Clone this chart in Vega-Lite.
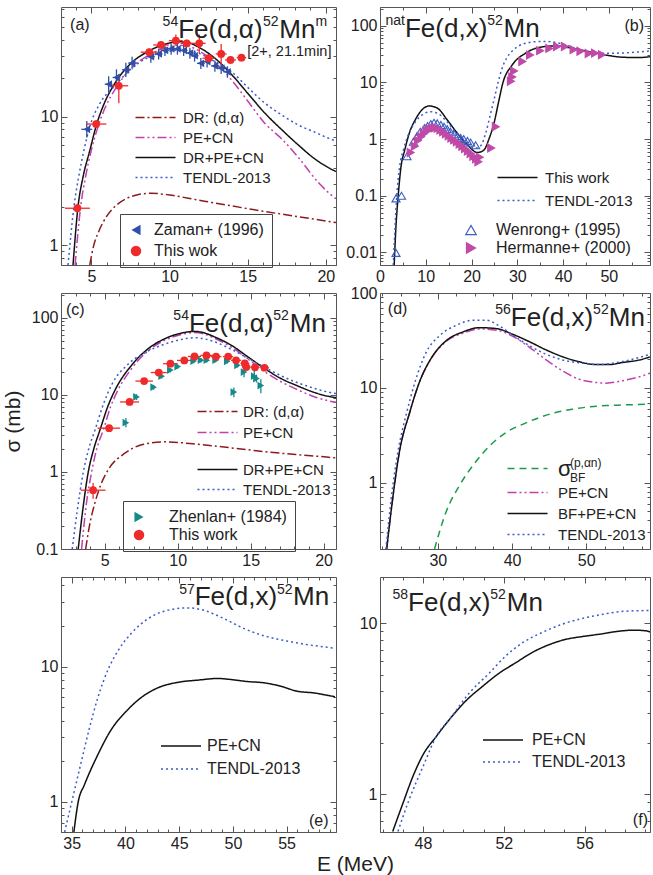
{
  "$schema": "https://vega.github.io/schema/vega-lite/v6.json",
  "background": "white",
  "padding": {"left": 1, "top": 0, "right": 1, "bottom": 0},
  "title": {"text": "E (MeV)", "orient": "bottom", "anchor": "middle", "fontSize": 21, "fontWeight": "normal", "font": "Liberation Sans", "color": "#222", "offset": -1, "dx": 28},
  "config": {
    "font": "Liberation Sans",
    "view": {"stroke": "#555", "strokeWidth": 1},
    "axis": {"grid": false, "domain": false, "labelFont": "Liberation Sans", "labelFontSize": 16, "labelColor": "#222", "tickColor": "#555", "tickWidth": 1, "labelPadding": 9, "labelFlush": false, "labelOverlap": false, "titleFont": "Liberation Sans", "titleFontWeight": "normal", "titleFontSize": 21, "titleColor": "#222"},
    "legend": {"labelFont": "Liberation Sans", "labelColor": "#222"},
    "text": {"font": "Liberation Sans", "color": "#222"}
  },
  "datasets": {
    "a_lines": [
      {"series": "DR+PE+CN", "E": 3.82, "sigma": 0.7}, {"series": "DR+PE+CN", "E": 4.14, "sigma": 2.0}, {"series": "DR+PE+CN", "E": 4.46, "sigma": 3.4}, {"series": "DR+PE+CN", "E": 4.9, "sigma": 5.5}, {"series": "DR+PE+CN", "E": 5.3, "sigma": 8.5}, {"series": "DR+PE+CN", "E": 5.8, "sigma": 12.6}, {"series": "DR+PE+CN", "E": 6.5, "sigma": 18.3}, {"series": "DR+PE+CN", "E": 7.5, "sigma": 26}, {"series": "DR+PE+CN", "E": 8.6, "sigma": 32.3}, {"series": "DR+PE+CN", "E": 9.7, "sigma": 36.9}, {"series": "DR+PE+CN", "E": 10.55, "sigma": 38.6}, {"series": "DR+PE+CN", "E": 11.3, "sigma": 37.6}, {"series": "DR+PE+CN", "E": 11.8, "sigma": 35.3}, {"series": "DR+PE+CN", "E": 12.9, "sigma": 28.7}, {"series": "DR+PE+CN", "E": 14.0, "sigma": 21.2}, {"series": "DR+PE+CN", "E": 15.0, "sigma": 15.3}, {"series": "DR+PE+CN", "E": 16.1, "sigma": 10.7}, {"series": "DR+PE+CN", "E": 17.2, "sigma": 7.9}, {"series": "DR+PE+CN", "E": 18.2, "sigma": 6.1}, {"series": "DR+PE+CN", "E": 19.3, "sigma": 4.7}, {"series": "DR+PE+CN", "E": 20.2, "sigma": 4.0}, {"series": "DR+PE+CN", "E": 20.65, "sigma": 3.75},
      {"series": "TENDL-2013", "E": 3.5, "sigma": 0.7}, {"series": "TENDL-2013", "E": 3.88, "sigma": 2.0}, {"series": "TENDL-2013", "E": 4.18, "sigma": 3.4}, {"series": "TENDL-2013", "E": 4.52, "sigma": 5.5}, {"series": "TENDL-2013", "E": 4.89, "sigma": 8.4}, {"series": "TENDL-2013", "E": 5.5, "sigma": 12.5}, {"series": "TENDL-2013", "E": 6.5, "sigma": 17.5}, {"series": "TENDL-2013", "E": 7.5, "sigma": 23.5}, {"series": "TENDL-2013", "E": 8.6, "sigma": 29}, {"series": "TENDL-2013", "E": 9.7, "sigma": 32.2}, {"series": "TENDL-2013", "E": 10.6, "sigma": 33.2}, {"series": "TENDL-2013", "E": 11.8, "sigma": 31.5}, {"series": "TENDL-2013", "E": 12.9, "sigma": 27}, {"series": "TENDL-2013", "E": 14.0, "sigma": 22.3}, {"series": "TENDL-2013", "E": 15.0, "sigma": 17}, {"series": "TENDL-2013", "E": 16.1, "sigma": 12.8}, {"series": "TENDL-2013", "E": 17.2, "sigma": 10.3}, {"series": "TENDL-2013", "E": 18.2, "sigma": 8.7}, {"series": "TENDL-2013", "E": 19.3, "sigma": 7.6}, {"series": "TENDL-2013", "E": 20.2, "sigma": 6.8}, {"series": "TENDL-2013", "E": 20.65, "sigma": 6.5},
      {"series": "PE+CN", "E": 3.95, "sigma": 0.7}, {"series": "PE+CN", "E": 4.31, "sigma": 2.0}, {"series": "PE+CN", "E": 4.62, "sigma": 3.4}, {"series": "PE+CN", "E": 4.99, "sigma": 5.5}, {"series": "PE+CN", "E": 5.42, "sigma": 8.4}, {"series": "PE+CN", "E": 5.9, "sigma": 12}, {"series": "PE+CN", "E": 6.5, "sigma": 16.3}, {"series": "PE+CN", "E": 7.5, "sigma": 23.8}, {"series": "PE+CN", "E": 8.6, "sigma": 30}, {"series": "PE+CN", "E": 9.7, "sigma": 34.5}, {"series": "PE+CN", "E": 10.55, "sigma": 36.2}, {"series": "PE+CN", "E": 11.3, "sigma": 35.3}, {"series": "PE+CN", "E": 11.8, "sigma": 33.2}, {"series": "PE+CN", "E": 12.9, "sigma": 26.6}, {"series": "PE+CN", "E": 14.0, "sigma": 19.2}, {"series": "PE+CN", "E": 15.0, "sigma": 13.3}, {"series": "PE+CN", "E": 16.1, "sigma": 8.9}, {"series": "PE+CN", "E": 17.2, "sigma": 6.7}, {"series": "PE+CN", "E": 18.2, "sigma": 4.9}, {"series": "PE+CN", "E": 19.5, "sigma": 3.1}, {"series": "PE+CN", "E": 20.2, "sigma": 2.55}, {"series": "PE+CN", "E": 20.65, "sigma": 2.3},
      {"series": "DR: (d,α)", "E": 4.89, "sigma": 0.7}, {"series": "DR: (d,α)", "E": 5.15, "sigma": 1.0}, {"series": "DR: (d,α)", "E": 5.42, "sigma": 1.24}, {"series": "DR: (d,α)", "E": 6.0, "sigma": 1.7}, {"series": "DR: (d,α)", "E": 6.5, "sigma": 2.0}, {"series": "DR: (d,α)", "E": 7.5, "sigma": 2.38}, {"series": "DR: (d,α)", "E": 8.8, "sigma": 2.54}, {"series": "DR: (d,α)", "E": 10.0, "sigma": 2.46}, {"series": "DR: (d,α)", "E": 11.8, "sigma": 2.25}, {"series": "DR: (d,α)", "E": 14.0, "sigma": 2.02}, {"series": "DR: (d,α)", "E": 16.1, "sigma": 1.83}, {"series": "DR: (d,α)", "E": 18.2, "sigma": 1.67}, {"series": "DR: (d,α)", "E": 20.2, "sigma": 1.53}, {"series": "DR: (d,α)", "E": 20.65, "sigma": 1.5}
    ],
    "a_pts": [
      {"source": "Zaman+ (1996)", "E": 4.7, "sigma": 8.0, "E_lo": 4.35, "E_hi": 5.05, "s_lo": 6.9, "s_hi": 9.3},
      {"source": "Zaman+ (1996)", "E": 6.1, "sigma": 18.0, "E_lo": 5.85, "E_hi": 6.35, "s_lo": 15.5, "s_hi": 20.8},
      {"source": "Zaman+ (1996)", "E": 6.6, "sigma": 20.3, "E_lo": 6.35, "E_hi": 6.85, "s_lo": 17.5, "s_hi": 23.5},
      {"source": "Zaman+ (1996)", "E": 7.2, "sigma": 23.3, "E_lo": 6.95, "E_hi": 7.45, "s_lo": 20.5, "s_hi": 26.5},
      {"source": "Zaman+ (1996)", "E": 7.6, "sigma": 26.3, "E_lo": 7.35, "E_hi": 7.85, "s_lo": 23.5, "s_hi": 29.5},
      {"source": "Zaman+ (1996)", "E": 8.8, "sigma": 29.5, "E_lo": 8.55, "E_hi": 9.05, "s_lo": 26.5, "s_hi": 32.8},
      {"source": "Zaman+ (1996)", "E": 9.3, "sigma": 31.0, "E_lo": 9.05, "E_hi": 9.55, "s_lo": 28, "s_hi": 34},
      {"source": "Zaman+ (1996)", "E": 9.7, "sigma": 33.0, "E_lo": 9.45, "E_hi": 9.95, "s_lo": 29.8, "s_hi": 36.2},
      {"source": "Zaman+ (1996)", "E": 10.1, "sigma": 34.0, "E_lo": 9.85, "E_hi": 10.35, "s_lo": 30.6, "s_hi": 37.4},
      {"source": "Zaman+ (1996)", "E": 10.5, "sigma": 34.0, "E_lo": 10.25, "E_hi": 10.75, "s_lo": 30.6, "s_hi": 37.4},
      {"source": "Zaman+ (1996)", "E": 10.9, "sigma": 33.0, "E_lo": 10.65, "E_hi": 11.15, "s_lo": 29.8, "s_hi": 36.2},
      {"source": "Zaman+ (1996)", "E": 11.3, "sigma": 31.5, "E_lo": 11.05, "E_hi": 11.55, "s_lo": 28.4, "s_hi": 34.6},
      {"source": "Zaman+ (1996)", "E": 11.6, "sigma": 30.0, "E_lo": 11.35, "E_hi": 11.85, "s_lo": 27, "s_hi": 33},
      {"source": "Zaman+ (1996)", "E": 12.0, "sigma": 26.2, "E_lo": 11.75, "E_hi": 12.25, "s_lo": 23.6, "s_hi": 28.8},
      {"source": "Zaman+ (1996)", "E": 12.4, "sigma": 27.0, "E_lo": 12.15, "E_hi": 12.65, "s_lo": 24.3, "s_hi": 29.7},
      {"source": "Zaman+ (1996)", "E": 12.9, "sigma": 25.0, "E_lo": 12.65, "E_hi": 13.15, "s_lo": 22.5, "s_hi": 27.5},
      {"source": "Zaman+ (1996)", "E": 13.3, "sigma": 24.0, "E_lo": 13.05, "E_hi": 13.55, "s_lo": 21.6, "s_hi": 26.4},
      {"source": "Zaman+ (1996)", "E": 13.7, "sigma": 22.5, "E_lo": 13.45, "E_hi": 13.95, "s_lo": 20.2, "s_hi": 24.8},
      {"source": "This wok", "E": 4.1, "sigma": 1.94, "E_lo": 3.3, "E_hi": 4.9, "s_lo": 1.8, "s_hi": 2.1},
      {"source": "This wok", "E": 5.3, "sigma": 8.8, "E_lo": 4.65, "E_hi": 5.95, "s_lo": 8.2, "s_hi": 9.4},
      {"source": "This wok", "E": 6.75, "sigma": 17.5, "E_lo": 6.2, "E_hi": 7.35, "s_lo": 12.8, "s_hi": 21.5},
      {"source": "This wok", "E": 8.7, "sigma": 32.0, "E_lo": 8.15, "E_hi": 9.25, "s_lo": 30, "s_hi": 34},
      {"source": "This wok", "E": 9.45, "sigma": 36.4, "E_lo": 8.95, "E_hi": 9.95, "s_lo": 34, "s_hi": 39},
      {"source": "This wok", "E": 10.4, "sigma": 39.3, "E_lo": 9.95, "E_hi": 10.85, "s_lo": 36, "s_hi": 44},
      {"source": "This wok", "E": 11.1, "sigma": 37.5, "E_lo": 10.7, "E_hi": 11.5, "s_lo": 35, "s_hi": 40},
      {"source": "This wok", "E": 11.9, "sigma": 37.5, "E_lo": 11.5, "E_hi": 12.3, "s_lo": 31.5, "s_hi": 44},
      {"source": "This wok", "E": 12.5, "sigma": 28.7, "E_lo": 12.1, "E_hi": 12.9, "s_lo": 26.5, "s_hi": 31},
      {"source": "This wok", "E": 13.3, "sigma": 31.0, "E_lo": 12.95, "E_hi": 13.65, "s_lo": 25.5, "s_hi": 37},
      {"source": "This wok", "E": 13.9, "sigma": 27.8, "E_lo": 13.55, "E_hi": 14.25, "s_lo": 26, "s_hi": 29.6},
      {"source": "This wok", "E": 14.6, "sigma": 29.0, "E_lo": 14.3, "E_hi": 14.9, "s_lo": 27.5, "s_hi": 30.5}
    ],
    "b_lines": [
      {"series": "This work", "E": 3.1, "sigma": 0.006}, {"series": "This work", "E": 3.5, "sigma": 0.03}, {"series": "This work", "E": 3.9, "sigma": 0.084}, {"series": "This work", "E": 4.6, "sigma": 0.33}, {"series": "This work", "E": 5.4, "sigma": 0.64}, {"series": "This work", "E": 6.4, "sigma": 1.27}, {"series": "This work", "E": 7.9, "sigma": 2.34}, {"series": "This work", "E": 9.3, "sigma": 3.37}, {"series": "This work", "E": 10.8, "sigma": 3.85}, {"series": "This work", "E": 12.6, "sigma": 3.5}, {"series": "This work", "E": 14.7, "sigma": 2.18}, {"series": "This work", "E": 16.9, "sigma": 1.27}, {"series": "This work", "E": 19.1, "sigma": 0.79}, {"series": "This work", "E": 21.3, "sigma": 0.58}, {"series": "This work", "E": 22.7, "sigma": 0.64}, {"series": "This work", "E": 23.8, "sigma": 1.0}, {"series": "This work", "E": 24.9, "sigma": 1.9}, {"series": "This work", "E": 26.0, "sigma": 4.9}, {"series": "This work", "E": 26.8, "sigma": 9.5}, {"series": "This work", "E": 28.9, "sigma": 20.4}, {"series": "This work", "E": 31.8, "sigma": 32.9}, {"series": "This work", "E": 34.7, "sigma": 41.4}, {"series": "This work", "E": 38.3, "sigma": 44.3}, {"series": "This work", "E": 41.9, "sigma": 40.3}, {"series": "This work", "E": 45.5, "sigma": 35.1}, {"series": "This work", "E": 49.2, "sigma": 30.7}, {"series": "This work", "E": 52.8, "sigma": 28}, {"series": "This work", "E": 56.4, "sigma": 27.5}, {"series": "This work", "E": 59.0, "sigma": 28.5},
      {"series": "TENDL-2013", "E": 2.9, "sigma": 0.006}, {"series": "TENDL-2013", "E": 3.3, "sigma": 0.03}, {"series": "TENDL-2013", "E": 3.6, "sigma": 0.084}, {"series": "TENDL-2013", "E": 4.3, "sigma": 0.33}, {"series": "TENDL-2013", "E": 5.1, "sigma": 0.64}, {"series": "TENDL-2013", "E": 6.2, "sigma": 1.2}, {"series": "TENDL-2013", "E": 7.7, "sigma": 2.0}, {"series": "TENDL-2013", "E": 9.3, "sigma": 2.7}, {"series": "TENDL-2013", "E": 11.0, "sigma": 3.05}, {"series": "TENDL-2013", "E": 12.6, "sigma": 2.85}, {"series": "TENDL-2013", "E": 14.7, "sigma": 2.0}, {"series": "TENDL-2013", "E": 16.9, "sigma": 1.2}, {"series": "TENDL-2013", "E": 19.1, "sigma": 0.8}, {"series": "TENDL-2013", "E": 21.0, "sigma": 0.7}, {"series": "TENDL-2013", "E": 22.0, "sigma": 0.76}, {"series": "TENDL-2013", "E": 23.1, "sigma": 1.27}, {"series": "TENDL-2013", "E": 24.2, "sigma": 2.9}, {"series": "TENDL-2013", "E": 24.9, "sigma": 4.9}, {"series": "TENDL-2013", "E": 25.8, "sigma": 10}, {"series": "TENDL-2013", "E": 26.7, "sigma": 18}, {"series": "TENDL-2013", "E": 27.8, "sigma": 28}, {"series": "TENDL-2013", "E": 28.9, "sigma": 36}, {"series": "TENDL-2013", "E": 30.5, "sigma": 45}, {"series": "TENDL-2013", "E": 32.5, "sigma": 50.7}, {"series": "TENDL-2013", "E": 35.0, "sigma": 53}, {"series": "TENDL-2013", "E": 36.8, "sigma": 52.8}, {"series": "TENDL-2013", "E": 39.7, "sigma": 48}, {"series": "TENDL-2013", "E": 43.3, "sigma": 38.7}, {"series": "TENDL-2013", "E": 47.6, "sigma": 32.9}, {"series": "TENDL-2013", "E": 51.2, "sigma": 32.9}, {"series": "TENDL-2013", "E": 54.8, "sigma": 33.8}, {"series": "TENDL-2013", "E": 59.0, "sigma": 36}
    ],
    "b_pts": [
      {"source": "Wenrong+ (1995)", "E": 3.5, "sigma": 0.0098}, {"source": "Wenrong+ (1995)", "E": 3.5, "sigma": 0.09}, {"source": "Wenrong+ (1995)", "E": 4.7, "sigma": 0.1}, {"source": "Wenrong+ (1995)", "E": 5.9, "sigma": 0.5}, {"source": "Wenrong+ (1995)", "E": 7.3, "sigma": 0.9}, {"source": "Wenrong+ (1995)", "E": 8.1, "sigma": 1.13}, {"source": "Wenrong+ (1995)", "E": 8.8, "sigma": 1.35}, {"source": "Wenrong+ (1995)", "E": 9.7, "sigma": 1.56}, {"source": "Wenrong+ (1995)", "E": 10.4, "sigma": 1.7}, {"source": "Wenrong+ (1995)", "E": 11.1, "sigma": 1.85}, {"source": "Wenrong+ (1995)", "E": 11.8, "sigma": 1.94}, {"source": "Wenrong+ (1995)", "E": 12.5, "sigma": 1.9}, {"source": "Wenrong+ (1995)", "E": 13.3, "sigma": 1.78}, {"source": "Wenrong+ (1995)", "E": 14.0, "sigma": 1.65}, {"source": "Wenrong+ (1995)", "E": 14.7, "sigma": 1.5}, {"source": "Wenrong+ (1995)", "E": 15.4, "sigma": 1.35}, {"source": "Wenrong+ (1995)", "E": 16.2, "sigma": 1.22}, {"source": "Wenrong+ (1995)", "E": 16.9, "sigma": 1.13}, {"source": "Wenrong+ (1995)", "E": 17.6, "sigma": 1.05}, {"source": "Wenrong+ (1995)", "E": 18.3, "sigma": 1.0}, {"source": "Wenrong+ (1995)", "E": 19.1, "sigma": 0.93}, {"source": "Wenrong+ (1995)", "E": 19.8, "sigma": 0.87}, {"source": "Wenrong+ (1995)", "E": 20.9, "sigma": 0.78},
      {"source": "Hermanne+ (2000)", "E": 6.7, "sigma": 0.58}, {"source": "Hermanne+ (2000)", "E": 7.6, "sigma": 0.75}, {"source": "Hermanne+ (2000)", "E": 8.3, "sigma": 0.95}, {"source": "Hermanne+ (2000)", "E": 9.0, "sigma": 1.1}, {"source": "Hermanne+ (2000)", "E": 9.6, "sigma": 1.25}, {"source": "Hermanne+ (2000)", "E": 10.2, "sigma": 1.4}, {"source": "Hermanne+ (2000)", "E": 10.8, "sigma": 1.5}, {"source": "Hermanne+ (2000)", "E": 11.4, "sigma": 1.55}, {"source": "Hermanne+ (2000)", "E": 12.0, "sigma": 1.58}, {"source": "Hermanne+ (2000)", "E": 12.6, "sigma": 1.55}, {"source": "Hermanne+ (2000)", "E": 13.2, "sigma": 1.45}, {"source": "Hermanne+ (2000)", "E": 13.8, "sigma": 1.35}, {"source": "Hermanne+ (2000)", "E": 14.4, "sigma": 1.25}, {"source": "Hermanne+ (2000)", "E": 15.0, "sigma": 1.15}, {"source": "Hermanne+ (2000)", "E": 15.6, "sigma": 1.05}, {"source": "Hermanne+ (2000)", "E": 16.2, "sigma": 0.97}, {"source": "Hermanne+ (2000)", "E": 16.8, "sigma": 0.9}, {"source": "Hermanne+ (2000)", "E": 17.4, "sigma": 0.82}, {"source": "Hermanne+ (2000)", "E": 18.0, "sigma": 0.75}, {"source": "Hermanne+ (2000)", "E": 18.6, "sigma": 0.68}, {"source": "Hermanne+ (2000)", "E": 19.2, "sigma": 0.62}, {"source": "Hermanne+ (2000)", "E": 19.8, "sigma": 0.56}, {"source": "Hermanne+ (2000)", "E": 20.4, "sigma": 0.5}, {"source": "Hermanne+ (2000)", "E": 21.0, "sigma": 0.45}, {"source": "Hermanne+ (2000)", "E": 21.5, "sigma": 0.4}, {"source": "Hermanne+ (2000)", "E": 21.8, "sigma": 0.48}, {"source": "Hermanne+ (2000)", "E": 24.3, "sigma": 0.7}, {"source": "Hermanne+ (2000)", "E": 25.3, "sigma": 1.65}, {"source": "Hermanne+ (2000)", "E": 28.6, "sigma": 10.5}, {"source": "Hermanne+ (2000)", "E": 28.9, "sigma": 12.5}, {"source": "Hermanne+ (2000)", "E": 29.3, "sigma": 16}, {"source": "Hermanne+ (2000)", "E": 31.1, "sigma": 23.5}, {"source": "Hermanne+ (2000)", "E": 32.8, "sigma": 30.5}, {"source": "Hermanne+ (2000)", "E": 35.0, "sigma": 36.5}, {"source": "Hermanne+ (2000)", "E": 37.0, "sigma": 40}, {"source": "Hermanne+ (2000)", "E": 38.7, "sigma": 43}, {"source": "Hermanne+ (2000)", "E": 40.4, "sigma": 43}, {"source": "Hermanne+ (2000)", "E": 42.3, "sigma": 38}, {"source": "Hermanne+ (2000)", "E": 43.8, "sigma": 35.5}, {"source": "Hermanne+ (2000)", "E": 45.6, "sigma": 32.5}, {"source": "Hermanne+ (2000)", "E": 47.0, "sigma": 33}, {"source": "Hermanne+ (2000)", "E": 48.5, "sigma": 31}
    ],
    "c_lines": [
      {"series": "DR+PE+CN", "E": 3.18, "sigma": 0.1}, {"series": "DR+PE+CN", "E": 3.5, "sigma": 0.33}, {"series": "DR+PE+CN", "E": 3.87, "sigma": 1.0}, {"series": "DR+PE+CN", "E": 4.25, "sigma": 2.0}, {"series": "DR+PE+CN", "E": 4.67, "sigma": 3.5}, {"series": "DR+PE+CN", "E": 5.2, "sigma": 7}, {"series": "DR+PE+CN", "E": 5.7, "sigma": 11.5}, {"series": "DR+PE+CN", "E": 6.84, "sigma": 24.3}, {"series": "DR+PE+CN", "E": 7.98, "sigma": 39.8}, {"series": "DR+PE+CN", "E": 9.12, "sigma": 53.6}, {"series": "DR+PE+CN", "E": 10.26, "sigma": 63.4}, {"series": "DR+PE+CN", "E": 11.18, "sigma": 66.7}, {"series": "DR+PE+CN", "E": 11.9, "sigma": 63}, {"series": "DR+PE+CN", "E": 12.55, "sigma": 56.3}, {"series": "DR+PE+CN", "E": 13.68, "sigma": 44}, {"series": "DR+PE+CN", "E": 14.83, "sigma": 31}, {"series": "DR+PE+CN", "E": 15.97, "sigma": 21.9}, {"series": "DR+PE+CN", "E": 17.11, "sigma": 16.2}, {"series": "DR+PE+CN", "E": 18.25, "sigma": 13.0}, {"series": "DR+PE+CN", "E": 19.4, "sigma": 10.7}, {"series": "DR+PE+CN", "E": 20.2, "sigma": 9.7}, {"series": "DR+PE+CN", "E": 20.85, "sigma": 9.2},
      {"series": "TENDL-2013", "E": 2.77, "sigma": 0.1}, {"series": "TENDL-2013", "E": 3.1, "sigma": 0.3}, {"series": "TENDL-2013", "E": 3.53, "sigma": 1.0}, {"series": "TENDL-2013", "E": 3.9, "sigma": 2.0}, {"series": "TENDL-2013", "E": 4.33, "sigma": 3.5}, {"series": "TENDL-2013", "E": 4.9, "sigma": 7.5}, {"series": "TENDL-2013", "E": 5.47, "sigma": 13.5}, {"series": "TENDL-2013", "E": 6.6, "sigma": 25}, {"series": "TENDL-2013", "E": 7.9, "sigma": 36.5}, {"series": "TENDL-2013", "E": 9.1, "sigma": 45.5}, {"series": "TENDL-2013", "E": 10.26, "sigma": 52.5}, {"series": "TENDL-2013", "E": 11.18, "sigma": 55.2}, {"series": "TENDL-2013", "E": 11.9, "sigma": 53}, {"series": "TENDL-2013", "E": 12.55, "sigma": 48.6}, {"series": "TENDL-2013", "E": 13.68, "sigma": 39}, {"series": "TENDL-2013", "E": 14.83, "sigma": 29.6}, {"series": "TENDL-2013", "E": 15.97, "sigma": 22.8}, {"series": "TENDL-2013", "E": 17.11, "sigma": 17.6}, {"series": "TENDL-2013", "E": 18.25, "sigma": 14.3}, {"series": "TENDL-2013", "E": 19.4, "sigma": 12.1}, {"series": "TENDL-2013", "E": 20.2, "sigma": 11.0}, {"series": "TENDL-2013", "E": 20.85, "sigma": 10.4},
      {"series": "PE+CN", "E": 3.41, "sigma": 0.1}, {"series": "PE+CN", "E": 3.75, "sigma": 0.4}, {"series": "PE+CN", "E": 4.1, "sigma": 1.0}, {"series": "PE+CN", "E": 4.45, "sigma": 2.0}, {"series": "PE+CN", "E": 4.9, "sigma": 3.5}, {"series": "PE+CN", "E": 5.4, "sigma": 7}, {"series": "PE+CN", "E": 5.85, "sigma": 11}, {"series": "PE+CN", "E": 6.84, "sigma": 22}, {"series": "PE+CN", "E": 7.98, "sigma": 37.5}, {"series": "PE+CN", "E": 9.12, "sigma": 51.3}, {"series": "PE+CN", "E": 10.26, "sigma": 61}, {"series": "PE+CN", "E": 11.18, "sigma": 64.3}, {"series": "PE+CN", "E": 11.9, "sigma": 60.8}, {"series": "PE+CN", "E": 12.55, "sigma": 54}, {"series": "PE+CN", "E": 13.68, "sigma": 41.8}, {"series": "PE+CN", "E": 14.83, "sigma": 29}, {"series": "PE+CN", "E": 15.97, "sigma": 20}, {"series": "PE+CN", "E": 17.11, "sigma": 14.7}, {"series": "PE+CN", "E": 18.25, "sigma": 11.6}, {"series": "PE+CN", "E": 19.4, "sigma": 9.4}, {"series": "PE+CN", "E": 20.2, "sigma": 8.5}, {"series": "PE+CN", "E": 20.85, "sigma": 8.0},
      {"series": "DR: (d,α)", "E": 3.69, "sigma": 0.1}, {"series": "DR: (d,α)", "E": 3.95, "sigma": 0.2}, {"series": "DR: (d,α)", "E": 4.33, "sigma": 0.4}, {"series": "DR: (d,α)", "E": 4.75, "sigma": 0.7}, {"series": "DR: (d,α)", "E": 5.24, "sigma": 1.07}, {"series": "DR: (d,α)", "E": 6.38, "sigma": 1.75}, {"series": "DR: (d,α)", "E": 7.52, "sigma": 2.25}, {"series": "DR: (d,α)", "E": 9.1, "sigma": 2.46}, {"series": "DR: (d,α)", "E": 11.4, "sigma": 2.28}, {"series": "DR: (d,α)", "E": 13.7, "sigma": 2.05}, {"series": "DR: (d,α)", "E": 16.0, "sigma": 1.83}, {"series": "DR: (d,α)", "E": 18.1, "sigma": 1.68}, {"series": "DR: (d,α)", "E": 20.2, "sigma": 1.56}, {"series": "DR: (d,α)", "E": 20.85, "sigma": 1.52}
    ],
    "c_pts": [
      {"source": "Zhenlan+ (1984)", "E": 6.45, "sigma": 4.35, "s_lo": 3.8, "s_hi": 5.0},
      {"source": "Zhenlan+ (1984)", "E": 7.18, "sigma": 9.4, "s_lo": 8.6, "s_hi": 10.2},
      {"source": "Zhenlan+ (1984)", "E": 8.35, "sigma": 12.6, "s_lo": 11.7, "s_hi": 13.5},
      {"source": "Zhenlan+ (1984)", "E": 8.9, "sigma": 17.5, "s_lo": 16.3, "s_hi": 18.7},
      {"source": "Zhenlan+ (1984)", "E": 9.5, "sigma": 21.0, "s_lo": 19.6, "s_hi": 22.4},
      {"source": "Zhenlan+ (1984)", "E": 10.0, "sigma": 23.3, "s_lo": 21.8, "s_hi": 24.8},
      {"source": "Zhenlan+ (1984)", "E": 11.1, "sigma": 27.5, "s_lo": 25.7, "s_hi": 29.3},
      {"source": "Zhenlan+ (1984)", "E": 11.6, "sigma": 28.2, "s_lo": 26.4, "s_hi": 30},
      {"source": "Zhenlan+ (1984)", "E": 12.0, "sigma": 28.2, "s_lo": 26.4, "s_hi": 30},
      {"source": "Zhenlan+ (1984)", "E": 12.6, "sigma": 28.2, "s_lo": 26.4, "s_hi": 30},
      {"source": "Zhenlan+ (1984)", "E": 13.4, "sigma": 27.3, "s_lo": 25.5, "s_hi": 29.1},
      {"source": "Zhenlan+ (1984)", "E": 13.85, "sigma": 10.9, "s_lo": 9.3, "s_hi": 12.5},
      {"source": "Zhenlan+ (1984)", "E": 14.1, "sigma": 24.2, "s_lo": 22.6, "s_hi": 25.8},
      {"source": "Zhenlan+ (1984)", "E": 14.55, "sigma": 19.8, "s_lo": 17.0, "s_hi": 23.0},
      {"source": "Zhenlan+ (1984)", "E": 15.25, "sigma": 17.5, "s_lo": 15.0, "s_hi": 20.5},
      {"source": "Zhenlan+ (1984)", "E": 15.4, "sigma": 16.3, "s_lo": 14.5, "s_hi": 18.3},
      {"source": "Zhenlan+ (1984)", "E": 15.7, "sigma": 13.2, "s_lo": 10.5, "s_hi": 16.0},
      {"source": "This work", "E": 4.2, "sigma": 0.58, "E_lo": 3.35, "E_hi": 5.05, "s_lo": 0.45, "s_hi": 0.72},
      {"source": "This work", "E": 5.3, "sigma": 3.7, "E_lo": 4.5, "E_hi": 6.05, "s_lo": 3.4, "s_hi": 4.0},
      {"source": "This work", "E": 6.7, "sigma": 8.1, "E_lo": 6.05, "E_hi": 7.35, "s_lo": 7.5, "s_hi": 8.8},
      {"source": "This work", "E": 7.7, "sigma": 15.1, "E_lo": 7.1, "E_hi": 8.3, "s_lo": 14, "s_hi": 16.3},
      {"source": "This work", "E": 8.7, "sigma": 19.5, "E_lo": 8.15, "E_hi": 9.25, "s_lo": 18, "s_hi": 21},
      {"source": "This work", "E": 9.5, "sigma": 25.4, "E_lo": 9.0, "E_hi": 10.0, "s_lo": 23.6, "s_hi": 27.3},
      {"source": "This work", "E": 10.45, "sigma": 28.0, "E_lo": 9.95, "E_hi": 10.95, "s_lo": 26, "s_hi": 30},
      {"source": "This work", "E": 11.15, "sigma": 31.5, "E_lo": 10.7, "E_hi": 11.6, "s_lo": 29.3, "s_hi": 33.8},
      {"source": "This work", "E": 11.97, "sigma": 32.5, "E_lo": 11.55, "E_hi": 12.4, "s_lo": 30.2, "s_hi": 34.8},
      {"source": "This work", "E": 12.63, "sigma": 31.4, "E_lo": 12.25, "E_hi": 13.0, "s_lo": 29.2, "s_hi": 33.6},
      {"source": "This work", "E": 13.46, "sigma": 31.4, "E_lo": 13.1, "E_hi": 13.8, "s_lo": 29.2, "s_hi": 33.6},
      {"source": "This work", "E": 14.0, "sigma": 28.1, "E_lo": 13.65, "E_hi": 14.35, "s_lo": 26.1, "s_hi": 30.1},
      {"source": "This work", "E": 14.6, "sigma": 25.6, "E_lo": 14.3, "E_hi": 14.9, "s_lo": 23.8, "s_hi": 27.4},
      {"source": "This work", "E": 14.7, "sigma": 23.0, "E_lo": 14.4, "E_hi": 15.0, "s_lo": 21.4, "s_hi": 24.6},
      {"source": "This work", "E": 15.3, "sigma": 22.8, "E_lo": 15.0, "E_hi": 15.6, "s_lo": 21.2, "s_hi": 24.4},
      {"source": "This work", "E": 15.95, "sigma": 22.5, "E_lo": 15.65, "E_hi": 16.25, "s_lo": 20.9, "s_hi": 24.1}
    ],
    "d_lines": [
      {"series": "σBF(p,αn)", "E": 29.55, "sigma": 0.2}, {"series": "σBF(p,αn)", "E": 31.1, "sigma": 0.49}, {"series": "σBF(p,αn)", "E": 32.9, "sigma": 0.93}, {"series": "σBF(p,αn)", "E": 34.7, "sigma": 1.51}, {"series": "σBF(p,αn)", "E": 37.0, "sigma": 2.45}, {"series": "σBF(p,αn)", "E": 39.2, "sigma": 3.39}, {"series": "σBF(p,αn)", "E": 41.5, "sigma": 4.15}, {"series": "σBF(p,αn)", "E": 43.7, "sigma": 4.87}, {"series": "σBF(p,αn)", "E": 45.9, "sigma": 5.5}, {"series": "σBF(p,αn)", "E": 48.2, "sigma": 5.96}, {"series": "σBF(p,αn)", "E": 50.4, "sigma": 6.3}, {"series": "σBF(p,αn)", "E": 52.7, "sigma": 6.5}, {"series": "σBF(p,αn)", "E": 54.9, "sigma": 6.6}, {"series": "σBF(p,αn)", "E": 58.6, "sigma": 6.73},
      {"series": "PE+CN", "E": 23.1, "sigma": 0.2}, {"series": "PE+CN", "E": 23.9, "sigma": 0.67}, {"series": "PE+CN", "E": 24.8, "sigma": 2.08}, {"series": "PE+CN", "E": 26.2, "sigma": 5.5}, {"series": "PE+CN", "E": 27.5, "sigma": 11.4}, {"series": "PE+CN", "E": 29.3, "sigma": 21.5}, {"series": "PE+CN", "E": 31.1, "sigma": 30.8}, {"series": "PE+CN", "E": 33.4, "sigma": 37.8}, {"series": "PE+CN", "E": 35.6, "sigma": 41.8}, {"series": "PE+CN", "E": 37.9, "sigma": 40.5}, {"series": "PE+CN", "E": 40.1, "sigma": 35}, {"series": "PE+CN", "E": 42.4, "sigma": 26.6}, {"series": "PE+CN", "E": 44.6, "sigma": 19.7}, {"series": "PE+CN", "E": 46.8, "sigma": 15.1}, {"series": "PE+CN", "E": 49.1, "sigma": 12.3}, {"series": "PE+CN", "E": 51.3, "sigma": 11.4}, {"series": "PE+CN", "E": 52.7, "sigma": 11.2}, {"series": "PE+CN", "E": 54.9, "sigma": 11.9}, {"series": "PE+CN", "E": 57.2, "sigma": 13.1}, {"series": "PE+CN", "E": 58.6, "sigma": 14.3},
      {"series": "BF+PE+CN", "E": 23.1, "sigma": 0.2}, {"series": "BF+PE+CN", "E": 23.9, "sigma": 0.67}, {"series": "BF+PE+CN", "E": 24.8, "sigma": 2.08}, {"series": "BF+PE+CN", "E": 26.2, "sigma": 5.5}, {"series": "BF+PE+CN", "E": 27.5, "sigma": 11.4}, {"series": "BF+PE+CN", "E": 29.3, "sigma": 21.7}, {"series": "BF+PE+CN", "E": 31.1, "sigma": 31.3}, {"series": "BF+PE+CN", "E": 33.4, "sigma": 38.9}, {"series": "BF+PE+CN", "E": 35.6, "sigma": 43.1}, {"series": "BF+PE+CN", "E": 37.9, "sigma": 42.1}, {"series": "BF+PE+CN", "E": 40.1, "sigma": 36.7}, {"series": "BF+PE+CN", "E": 42.4, "sigma": 30.5}, {"series": "BF+PE+CN", "E": 44.6, "sigma": 25.1}, {"series": "BF+PE+CN", "E": 46.8, "sigma": 21.3}, {"series": "BF+PE+CN", "E": 49.1, "sigma": 18.8}, {"series": "BF+PE+CN", "E": 51.3, "sigma": 17.6}, {"series": "BF+PE+CN", "E": 53.1, "sigma": 17.6}, {"series": "BF+PE+CN", "E": 54.9, "sigma": 18.5}, {"series": "BF+PE+CN", "E": 57.2, "sigma": 19.7}, {"series": "BF+PE+CN", "E": 58.6, "sigma": 21.2},
      {"series": "TENDL-2013", "E": 23.0, "sigma": 0.2}, {"series": "TENDL-2013", "E": 23.7, "sigma": 0.67}, {"series": "TENDL-2013", "E": 24.6, "sigma": 2.08}, {"series": "TENDL-2013", "E": 25.8, "sigma": 5.5}, {"series": "TENDL-2013", "E": 26.9, "sigma": 11.4}, {"series": "TENDL-2013", "E": 28.4, "sigma": 23.5}, {"series": "TENDL-2013", "E": 30.2, "sigma": 35.3}, {"series": "TENDL-2013", "E": 32.5, "sigma": 45.7}, {"series": "TENDL-2013", "E": 34.7, "sigma": 51.6}, {"series": "TENDL-2013", "E": 36.5, "sigma": 51.6}, {"series": "TENDL-2013", "E": 38.3, "sigma": 44.9}, {"series": "TENDL-2013", "E": 40.1, "sigma": 35.9}, {"series": "TENDL-2013", "E": 42.4, "sigma": 27.7}, {"series": "TENDL-2013", "E": 44.6, "sigma": 22.6}, {"series": "TENDL-2013", "E": 46.8, "sigma": 19.7}, {"series": "TENDL-2013", "E": 49.5, "sigma": 18.2}, {"series": "TENDL-2013", "E": 51.9, "sigma": 17.6}, {"series": "TENDL-2013", "E": 53.6, "sigma": 18.2}, {"series": "TENDL-2013", "E": 55.9, "sigma": 19.7}, {"series": "TENDL-2013", "E": 58.6, "sigma": 22.6}
    ],
    "e_lines": [
      {"series": "PE+CN", "E": 35.2, "sigma": 0.6}, {"series": "PE+CN", "E": 35.6, "sigma": 1.0}, {"series": "PE+CN", "E": 36.2, "sigma": 1.35}, {"series": "PE+CN", "E": 37.4, "sigma": 2.21}, {"series": "PE+CN", "E": 38.65, "sigma": 3.4}, {"series": "PE+CN", "E": 40.05, "sigma": 4.66}, {"series": "PE+CN", "E": 41.4, "sigma": 5.86}, {"series": "PE+CN", "E": 43.0, "sigma": 6.97}, {"series": "PE+CN", "E": 45.2, "sigma": 7.73}, {"series": "PE+CN", "E": 46.7, "sigma": 7.95}, {"series": "PE+CN", "E": 48.6, "sigma": 8.18}, {"series": "PE+CN", "E": 49.8, "sigma": 8.04}, {"series": "PE+CN", "E": 51.4, "sigma": 7.76}, {"series": "PE+CN", "E": 52.9, "sigma": 7.6}, {"series": "PE+CN", "E": 54.45, "sigma": 7.17}, {"series": "PE+CN", "E": 56.0, "sigma": 6.58}, {"series": "PE+CN", "E": 57.6, "sigma": 6.39}, {"series": "PE+CN", "E": 58.8, "sigma": 6.14}, {"series": "PE+CN", "E": 59.5, "sigma": 6.0},
      {"series": "TENDL-2013", "E": 34.34, "sigma": 0.6}, {"series": "TENDL-2013", "E": 35.0, "sigma": 1.0}, {"series": "TENDL-2013", "E": 35.9, "sigma": 2.0}, {"series": "TENDL-2013", "E": 36.6, "sigma": 3.4}, {"series": "TENDL-2013", "E": 37.4, "sigma": 5.8}, {"series": "TENDL-2013", "E": 38.5, "sigma": 10}, {"series": "TENDL-2013", "E": 39.3, "sigma": 13.1}, {"series": "TENDL-2013", "E": 40.5, "sigma": 17.5}, {"series": "TENDL-2013", "E": 42.1, "sigma": 22.6}, {"series": "TENDL-2013", "E": 43.6, "sigma": 25.7}, {"series": "TENDL-2013", "E": 45.8, "sigma": 27.2}, {"series": "TENDL-2013", "E": 47.3, "sigma": 26.1}, {"series": "TENDL-2013", "E": 49.2, "sigma": 22.6}, {"series": "TENDL-2013", "E": 51.0, "sigma": 19.2}, {"series": "TENDL-2013", "E": 52.9, "sigma": 16.9}, {"series": "TENDL-2013", "E": 54.8, "sigma": 15.6}, {"series": "TENDL-2013", "E": 56.6, "sigma": 14.7}, {"series": "TENDL-2013", "E": 58.8, "sigma": 13.9}, {"series": "TENDL-2013", "E": 59.5, "sigma": 13.7}
    ],
    "f_lines": [
      {"series": "PE+CN", "E": 46.5, "sigma": 0.605}, {"series": "PE+CN", "E": 47.0, "sigma": 0.88}, {"series": "PE+CN", "E": 47.5, "sigma": 1.27}, {"series": "PE+CN", "E": 48.0, "sigma": 1.7}, {"series": "PE+CN", "E": 48.66, "sigma": 2.18}, {"series": "PE+CN", "E": 49.3, "sigma": 2.73}, {"series": "PE+CN", "E": 50.1, "sigma": 3.5}, {"series": "PE+CN", "E": 50.97, "sigma": 4.3}, {"series": "PE+CN", "E": 51.8, "sigma": 5.14}, {"series": "PE+CN", "E": 52.6, "sigma": 5.89}, {"series": "PE+CN", "E": 53.4, "sigma": 6.75}, {"series": "PE+CN", "E": 54.3, "sigma": 7.55}, {"series": "PE+CN", "E": 55.1, "sigma": 8.08}, {"series": "PE+CN", "E": 55.9, "sigma": 8.38}, {"series": "PE+CN", "E": 56.75, "sigma": 8.65}, {"series": "PE+CN", "E": 57.6, "sigma": 8.97}, {"series": "PE+CN", "E": 58.4, "sigma": 9.13}, {"series": "PE+CN", "E": 59.05, "sigma": 9.05}, {"series": "PE+CN", "E": 59.24, "sigma": 8.9},
      {"series": "TENDL-2013", "E": 46.76, "sigma": 0.605}, {"series": "TENDL-2013", "E": 47.3, "sigma": 0.92}, {"series": "TENDL-2013", "E": 48.0, "sigma": 1.45}, {"series": "TENDL-2013", "E": 48.66, "sigma": 2.18}, {"series": "TENDL-2013", "E": 49.3, "sigma": 2.73}, {"series": "TENDL-2013", "E": 50.3, "sigma": 3.92}, {"series": "TENDL-2013", "E": 51.3, "sigma": 5.14}, {"series": "TENDL-2013", "E": 52.1, "sigma": 6.45}, {"series": "TENDL-2013", "E": 52.95, "sigma": 7.73}, {"series": "TENDL-2013", "E": 53.9, "sigma": 8.85}, {"series": "TENDL-2013", "E": 54.9, "sigma": 9.9}, {"series": "TENDL-2013", "E": 55.9, "sigma": 10.7}, {"series": "TENDL-2013", "E": 56.9, "sigma": 11.3}, {"series": "TENDL-2013", "E": 57.9, "sigma": 11.77}, {"series": "TENDL-2013", "E": 59.24, "sigma": 11.9}
    ]
  },
  "columns": 2,
  "spacing": {"row": 28, "column": 44},
  "bounds": "flush",
  "align": "each",
  "resolve": {"scale": {"stroke": "independent", "strokeDash": "independent", "color": "independent", "shape": "independent", "fill": "independent"}},
  "concat": [
    {
      "width": 275, "height": 258,
      "layer": [
        {
          "data": {"name": "a_lines"},
          "mark": {"type": "line", "clip": true, "strokeWidth": 1.5, "interpolate": "monotone"},
          "encoding": {
            "x": {"field": "E", "type": "quantitative", "scale": {"domain": [3.05, 20.65], "nice": false, "zero": false},
              "axis": {"orient": "bottom", "title": null, "values": [4,5,6,7,8,9,10,11,12,13,14,15,16,17,18,19,20], "labelExpr": "datum.value % 5 === 0 ? datum.label : ''", "tickSize": {"condition": {"test": "datum.value % 5 === 0", "value": -6}, "value": -3}}},
            "y": {"field": "sigma", "type": "quantitative", "scale": {"type": "log", "domain": [0.7, 72], "nice": false},
              "axis": {"orient": "left", "title": null, "format": "~g", "values": [0.7,0.8,0.9,1,2,3,4,5,6,7,8,9,10,20,30,40,50,60,70], "labelExpr": "abs(log(datum.value)/LN10 - round(log(datum.value)/LN10)) < 0.001 ? datum.label : ''", "tickSize": {"condition": {"test": "abs(log(datum.value)/LN10 - round(log(datum.value)/LN10)) < 0.001", "value": -6}, "value": -3}}},
            "stroke": {"field": "series", "type": "nominal", "scale": {"domain": ["DR: (d,α)", "PE+CN", "DR+PE+CN", "TENDL-2013"], "range": ["#8b1c1c", "#c040b0", "#111111", "#3a5ccc"]},
              "legend": {"orient": "none", "legendX": 102, "legendY": 103, "title": null, "symbolType": "M-7,0L1,0", "symbolSize": 100, "symbolStrokeWidth": 1.5, "labelFontSize": 15, "labelOffset": 5, "rowPadding": 4, "padding": 0}},
            "strokeDash": {"field": "series", "type": "nominal", "scale": {"domain": ["DR: (d,α)", "PE+CN", "DR+PE+CN", "TENDL-2013"], "range": [[9,3,2,3],[9,3,2,3,2,3],[1,0],[2,3]]},
              "legend": {"orient": "none", "legendX": 102, "legendY": 103, "title": null, "symbolType": "M-7,0L1,0", "symbolSize": 100, "symbolStrokeWidth": 1.5, "labelFontSize": 15, "labelOffset": 5, "rowPadding": 4, "padding": 0}}
          }
        },
        {
          "data": {"name": "a_lines"},
          "mark": {"type": "point", "opacity": 0},
          "encoding": {
            "x": {"field": "E", "type": "quantitative", "axis": {"orient": "top", "title": null, "labels": false, "values": [4,5,6,7,8,9,10,11,12,13,14,15,16,17,18,19,20], "tickSize": {"condition": {"test": "datum.value % 5 === 0", "value": -6}, "value": -3}}},
            "y": {"field": "sigma", "type": "quantitative", "axis": {"orient": "right", "title": null, "labels": false, "values": [0.7,0.8,0.9,1,2,3,4,5,6,7,8,9,10,20,30,40,50,60,70], "tickSize": {"condition": {"test": "abs(log(datum.value)/LN10 - round(log(datum.value)/LN10)) < 0.001", "value": -6}, "value": -3}}}
          }
        },
        {
          "data": {"name": "a_pts"},
          "transform": [{"filter": "datum.source === 'Zaman+ (1996)'"}],
          "mark": {"type": "rule", "clip": true, "color": "#3050a8", "strokeWidth": 1.3},
          "encoding": {"x": {"field": "E_lo", "type": "quantitative", "axis": null}, "x2": {"field": "E_hi"}, "y": {"field": "sigma", "type": "quantitative", "axis": null}}
        },
        {
          "data": {"name": "a_pts"},
          "transform": [{"filter": "datum.source === 'Zaman+ (1996)'"}],
          "mark": {"type": "rule", "clip": true, "color": "#3050a8", "strokeWidth": 1.3},
          "encoding": {"x": {"field": "E", "type": "quantitative", "axis": null}, "y": {"field": "s_lo", "type": "quantitative", "axis": null}, "y2": {"field": "s_hi"}}
        },
        {
          "data": {"name": "a_pts"},
          "transform": [{"filter": "datum.source === 'This wok'"}],
          "mark": {"type": "rule", "clip": true, "color": "#ee2a2a", "strokeWidth": 1.3},
          "encoding": {"x": {"field": "E_lo", "type": "quantitative", "axis": null}, "x2": {"field": "E_hi"}, "y": {"field": "sigma", "type": "quantitative", "axis": null}}
        },
        {
          "data": {"name": "a_pts"},
          "transform": [{"filter": "datum.source === 'This wok'"}],
          "mark": {"type": "rule", "clip": true, "color": "#ee2a2a", "strokeWidth": 1.3},
          "encoding": {"x": {"field": "E", "type": "quantitative", "axis": null}, "y": {"field": "s_lo", "type": "quantitative", "axis": null}, "y2": {"field": "s_hi"}}
        },
        {
          "data": {"name": "a_pts"},
          "mark": {"type": "point", "filled": true, "opacity": 1, "clip": true, "size": 60},
          "encoding": {
            "x": {"field": "E", "type": "quantitative", "axis": null},
            "y": {"field": "sigma", "type": "quantitative", "axis": null},
            "color": {"field": "source", "type": "nominal", "scale": {"domain": ["Zaman+ (1996)", "This wok"], "range": ["#3050a8", "#ee2a2a"]},
              "legend": {"orient": "none", "legendX": 59, "legendY": 207, "title": null, "symbolSize": 110, "labelFontSize": 16, "labelOffset": 10, "rowPadding": 5, "padding": 8, "strokeColor": "#444"}},
            "shape": {"field": "source", "type": "nominal", "scale": {"domain": ["Zaman+ (1996)", "This wok"], "range": ["triangle-left", "circle"]},
              "legend": {"orient": "none", "legendX": 59, "legendY": 207, "title": null, "symbolSize": 110, "labelFontSize": 16, "labelOffset": 10, "rowPadding": 5, "padding": 8, "strokeColor": "#444"}}
          }
        },
        {
          "data": {"values": [{}]},
          "mark": {"type": "text", "align": "right", "baseline": "alphabetic", "fontSize": 14},
          "encoding": {"x": {"datum": 10.55, "type": "quantitative", "axis": null}, "y": {"datum": 51.2, "type": "quantitative", "axis": null}, "text": {"value": "54"}}
        },
        {
          "data": {"values": [{"t": "52", "E": 15.97, "s": 51.2}, {"t": "m", "E": 19.33, "s": 51.2}]},
          "mark": {"type": "text", "align": "left", "baseline": "alphabetic", "fontSize": 14},
          "encoding": {"x": {"field": "E", "type": "quantitative", "axis": null}, "y": {"field": "s", "type": "quantitative", "axis": null}, "text": {"field": "t"}}
        },
        {
          "data": {"values": [{"t": "Fe(d,α)", "E": 10.55, "s": 41.0}, {"t": "Mn", "E": 17.02, "s": 41.0}]},
          "mark": {"type": "text", "align": "left", "baseline": "alphabetic", "fontSize": 26},
          "encoding": {"x": {"field": "E", "type": "quantitative", "axis": null}, "y": {"field": "s", "type": "quantitative", "axis": null}, "text": {"field": "t"}}
        },
        {
          "data": {"values": [{}]},
          "mark": {"type": "text", "align": "right", "baseline": "alphabetic", "fontSize": 14.5},
          "encoding": {"x": {"datum": 20.36, "type": "quantitative", "axis": null}, "y": {"datum": 30.0, "type": "quantitative", "axis": null}, "text": {"value": "[2+, 21.1min]"}}
        },
        {
          "data": {"values": [{}]},
          "mark": {"type": "text", "align": "left", "baseline": "alphabetic", "fontSize": 16},
          "encoding": {"x": {"datum": 3.63, "type": "quantitative", "axis": null}, "y": {"datum": 47.6, "type": "quantitative", "axis": null}, "text": {"value": "(a)"}}
        }
      ],
      "resolve": {"axis": {"x": "independent", "y": "independent"}}
    },
    {
      "width": 270, "height": 258,
      "layer": [
        {
          "data": {"name": "b_lines"},
          "mark": {"type": "line", "clip": true, "strokeWidth": 1.5, "interpolate": "monotone"},
          "encoding": {
            "x": {"field": "E", "type": "quantitative", "scale": {"domain": [0, 59], "nice": false, "zero": false},
              "axis": {"orient": "bottom", "title": null, "values": [0,5,10,15,20,25,30,35,40,45,50,55], "labelExpr": "datum.value % 10 === 0 ? datum.label : ''", "tickSize": {"condition": {"test": "datum.value % 10 === 0", "value": -6}, "value": -3}}},
            "y": {"field": "sigma", "type": "quantitative", "scale": {"type": "log", "domain": [0.006, 215], "nice": false},
              "axis": {"orient": "left", "title": null, "format": "~g", "values": [0.006,0.007,0.008,0.009,0.01,0.02,0.03,0.04,0.05,0.06,0.07,0.08,0.09,0.1,0.2,0.3,0.4,0.5,0.6,0.7,0.8,0.9,1,2,3,4,5,6,7,8,9,10,20,30,40,50,60,70,80,90,100,200], "labelExpr": "abs(log(datum.value)/LN10 - round(log(datum.value)/LN10)) < 0.001 ? datum.label : ''", "tickSize": {"condition": {"test": "abs(log(datum.value)/LN10 - round(log(datum.value)/LN10)) < 0.001", "value": -6}, "value": -3}}},
            "stroke": {"field": "series", "type": "nominal", "scale": {"domain": ["This work", "TENDL-2013"], "range": ["#111111", "#3a5ccc"]},
              "legend": {"orient": "none", "legendX": 145, "legendY": 163, "title": null, "symbolType": "M-7,0L1,0", "symbolSize": 100, "symbolStrokeWidth": 1.5, "labelFontSize": 15, "labelOffset": 5, "rowPadding": 7, "padding": 0}},
            "strokeDash": {"field": "series", "type": "nominal", "scale": {"domain": ["This work", "TENDL-2013"], "range": [[1,0],[2,3]]},
              "legend": {"orient": "none", "legendX": 145, "legendY": 163, "title": null, "symbolType": "M-7,0L1,0", "symbolSize": 100, "symbolStrokeWidth": 1.5, "labelFontSize": 15, "labelOffset": 5, "rowPadding": 7, "padding": 0}}
          }
        },
        {
          "data": {"name": "b_lines"},
          "mark": {"type": "point", "opacity": 0},
          "encoding": {
            "x": {"field": "E", "type": "quantitative", "axis": {"orient": "top", "title": null, "labels": false, "values": [0,5,10,15,20,25,30,35,40,45,50,55], "tickSize": {"condition": {"test": "datum.value % 10 === 0", "value": -6}, "value": -3}}},
            "y": {"field": "sigma", "type": "quantitative", "axis": {"orient": "right", "title": null, "labels": false, "values": [0.006,0.007,0.008,0.009,0.01,0.02,0.03,0.04,0.05,0.06,0.07,0.08,0.09,0.1,0.2,0.3,0.4,0.5,0.6,0.7,0.8,0.9,1,2,3,4,5,6,7,8,9,10,20,30,40,50,60,70,80,90,100,200], "tickSize": {"condition": {"test": "abs(log(datum.value)/LN10 - round(log(datum.value)/LN10)) < 0.001", "value": -6}, "value": -3}}}
          }
        },
        {
          "data": {"name": "b_pts"},
          "mark": {"type": "point", "filled": false, "opacity": 1, "fillOpacity": 1, "clip": true, "size": 65, "strokeWidth": 1.1},
          "encoding": {
            "x": {"field": "E", "type": "quantitative", "axis": null},
            "y": {"field": "sigma", "type": "quantitative", "axis": null},
            "color": {"field": "source", "type": "nominal", "scale": {"domain": ["Wenrong+ (1995)", "Hermanne+ (2000)"], "range": ["#3a5cc0", "#c04aa8"]},
              "legend": {"orient": "none", "legendX": 83, "legendY": 215, "title": null, "symbolSize": 110, "symbolStrokeWidth": 1.2, "labelFontSize": 16, "labelOffset": 17, "rowPadding": 2, "padding": 0}},
            "fill": {"field": "source", "type": "nominal", "scale": {"domain": ["Wenrong+ (1995)", "Hermanne+ (2000)"], "range": ["transparent", "#c04aa8"]},
              "legend": {"orient": "none", "legendX": 83, "legendY": 215, "title": null, "symbolSize": 110, "symbolStrokeWidth": 1.2, "labelFontSize": 16, "labelOffset": 17, "rowPadding": 2, "padding": 0}},
            "shape": {"field": "source", "type": "nominal", "scale": {"domain": ["Wenrong+ (1995)", "Hermanne+ (2000)"], "range": ["triangle-up", "triangle-right"]},
              "legend": {"orient": "none", "legendX": 83, "legendY": 215, "title": null, "symbolSize": 110, "symbolStrokeWidth": 1.2, "labelFontSize": 16, "labelOffset": 17, "rowPadding": 2, "padding": 0}}
          }
        },
        {
          "data": {"values": [{}]},
          "mark": {"type": "text", "align": "right", "baseline": "alphabetic", "fontSize": 14},
          "encoding": {"x": {"datum": 5.46, "type": "quantitative", "axis": null}, "y": {"datum": 104, "type": "quantitative", "axis": null}, "text": {"value": "nat"}}
        },
        {
          "data": {"values": [{}]},
          "mark": {"type": "text", "align": "left", "baseline": "alphabetic", "fontSize": 14},
          "encoding": {"x": {"datum": 23.45, "type": "quantitative", "axis": null}, "y": {"datum": 104, "type": "quantitative", "axis": null}, "text": {"value": "52"}}
        },
        {
          "data": {"values": [{"t": "Fe(d,x)", "E": 5.46, "s": 64}, {"t": "Mn", "E": 27.0, "s": 64}]},
          "mark": {"type": "text", "align": "left", "baseline": "alphabetic", "fontSize": 26},
          "encoding": {"x": {"field": "E", "type": "quantitative", "axis": null}, "y": {"field": "s", "type": "quantitative", "axis": null}, "text": {"field": "t"}}
        },
        {
          "data": {"values": [{}]},
          "mark": {"type": "text", "align": "right", "baseline": "alphabetic", "fontSize": 16},
          "encoding": {"x": {"datum": 57.7, "type": "quantitative", "axis": null}, "y": {"datum": 81.6, "type": "quantitative", "axis": null}, "text": {"value": "(b)"}}
        }
      ],
      "resolve": {"axis": {"x": "independent", "y": "independent"}}
    },
    {
      "width": 275, "height": 256,
      "layer": [
        {
          "data": {"name": "c_lines"},
          "transform": [{"filter": "datum.series === 'DR: (d,α)' || datum.series === 'PE+CN'"}],
          "mark": {"type": "line", "clip": true, "strokeWidth": 1.5, "interpolate": "monotone"},
          "encoding": {
            "x": {"field": "E", "type": "quantitative", "scale": {"domain": [2, 20.85], "nice": false, "zero": false},
              "axis": {"orient": "bottom", "title": null, "values": [3,4,5,6,7,8,9,10,11,12,13,14,15,16,17,18,19,20], "labelExpr": "datum.value % 5 === 0 ? datum.label : ''", "tickSize": {"condition": {"test": "datum.value % 5 === 0", "value": -6}, "value": -3}}},
            "y": {"field": "sigma", "type": "quantitative", "scale": {"type": "log", "domain": [0.1, 210], "nice": false},
              "axis": {"orient": "left", "title": "σ (mb)", "titlePadding": 8, "format": "~g", "values": [0.1,0.2,0.3,0.4,0.5,0.6,0.7,0.8,0.9,1,2,3,4,5,6,7,8,9,10,20,30,40,50,60,70,80,90,100,200], "labelExpr": "abs(log(datum.value)/LN10 - round(log(datum.value)/LN10)) < 0.001 ? datum.label : ''", "tickSize": {"condition": {"test": "abs(log(datum.value)/LN10 - round(log(datum.value)/LN10)) < 0.001", "value": -6}, "value": -3}}},
            "stroke": {"field": "series", "type": "nominal", "scale": {"domain": ["DR: (d,α)", "PE+CN"], "range": ["#8b1c1c", "#c040b0"]},
              "legend": {"orient": "none", "legendX": 164, "legendY": 111, "title": null, "symbolType": "M-7,0L1,0", "symbolSize": 100, "symbolStrokeWidth": 1.5, "labelFontSize": 15, "labelOffset": 3, "rowPadding": 5, "padding": 0}},
            "strokeDash": {"field": "series", "type": "nominal", "scale": {"domain": ["DR: (d,α)", "PE+CN"], "range": [[9,3,2,3],[9,3,2,3,2,3]]},
              "legend": {"orient": "none", "legendX": 164, "legendY": 111, "title": null, "symbolType": "M-7,0L1,0", "symbolSize": 100, "symbolStrokeWidth": 1.5, "labelFontSize": 15, "labelOffset": 3, "rowPadding": 5, "padding": 0}}
          }
        },
        {
          "data": {"name": "c_lines"},
          "transform": [{"filter": "datum.series === 'DR+PE+CN' || datum.series === 'TENDL-2013'"}],
          "mark": {"type": "line", "clip": true, "strokeWidth": 1.5, "interpolate": "monotone"},
          "encoding": {
            "x": {"field": "E", "type": "quantitative", "axis": null},
            "y": {"field": "sigma", "type": "quantitative", "axis": null},
            "stroke": {"field": "series", "type": "nominal", "scale": {"domain": ["DR+PE+CN", "TENDL-2013"], "range": ["#111111", "#3a5ccc"]},
              "legend": {"orient": "none", "legendX": 164, "legendY": 169, "title": null, "symbolType": "M-7,0L1,0", "symbolSize": 100, "symbolStrokeWidth": 1.5, "labelFontSize": 15, "labelOffset": 3, "rowPadding": 4, "padding": 0}},
            "strokeDash": {"field": "series", "type": "nominal", "scale": {"domain": ["DR+PE+CN", "TENDL-2013"], "range": [[1,0],[2,3]]},
              "legend": {"orient": "none", "legendX": 164, "legendY": 169, "title": null, "symbolType": "M-7,0L1,0", "symbolSize": 100, "symbolStrokeWidth": 1.5, "labelFontSize": 15, "labelOffset": 3, "rowPadding": 4, "padding": 0}}
          }
        },
        {
          "data": {"name": "c_lines"},
          "mark": {"type": "point", "opacity": 0},
          "encoding": {
            "x": {"field": "E", "type": "quantitative", "axis": {"orient": "top", "title": null, "labels": false, "values": [3,4,5,6,7,8,9,10,11,12,13,14,15,16,17,18,19,20], "tickSize": {"condition": {"test": "datum.value % 5 === 0", "value": -6}, "value": -3}}},
            "y": {"field": "sigma", "type": "quantitative", "axis": {"orient": "right", "title": null, "labels": false, "values": [0.1,0.2,0.3,0.4,0.5,0.6,0.7,0.8,0.9,1,2,3,4,5,6,7,8,9,10,20,30,40,50,60,70,80,90,100,200], "tickSize": {"condition": {"test": "abs(log(datum.value)/LN10 - round(log(datum.value)/LN10)) < 0.001", "value": -6}, "value": -3}}}
          }
        },
        {
          "data": {"name": "c_pts"},
          "transform": [{"filter": "datum.source === 'Zhenlan+ (1984)'"}],
          "mark": {"type": "rule", "clip": true, "color": "#168a8a", "strokeWidth": 1.3},
          "encoding": {"x": {"field": "E", "type": "quantitative", "axis": null}, "y": {"field": "s_lo", "type": "quantitative", "axis": null}, "y2": {"field": "s_hi"}}
        },
        {
          "data": {"name": "c_pts"},
          "transform": [{"filter": "datum.source === 'This work'"}],
          "mark": {"type": "rule", "clip": true, "color": "#ee2a2a", "strokeWidth": 1.3},
          "encoding": {"x": {"field": "E_lo", "type": "quantitative", "axis": null}, "x2": {"field": "E_hi"}, "y": {"field": "sigma", "type": "quantitative", "axis": null}}
        },
        {
          "data": {"name": "c_pts"},
          "transform": [{"filter": "datum.source === 'This work'"}],
          "mark": {"type": "rule", "clip": true, "color": "#ee2a2a", "strokeWidth": 1.3},
          "encoding": {"x": {"field": "E", "type": "quantitative", "axis": null}, "y": {"field": "s_lo", "type": "quantitative", "axis": null}, "y2": {"field": "s_hi"}}
        },
        {
          "data": {"name": "c_pts"},
          "mark": {"type": "point", "filled": true, "opacity": 1, "clip": true, "size": 60},
          "encoding": {
            "x": {"field": "E", "type": "quantitative", "axis": null},
            "y": {"field": "sigma", "type": "quantitative", "axis": null},
            "color": {"field": "source", "type": "nominal", "scale": {"domain": ["Zhenlan+ (1984)", "This work"], "range": ["#168a8a", "#ee2a2a"]},
              "legend": {"orient": "none", "legendX": 62, "legendY": 208, "title": null, "symbolSize": 110, "labelFontSize": 16, "labelOffset": 22, "rowPadding": 2, "padding": 8, "strokeColor": "#444"}},
            "shape": {"field": "source", "type": "nominal", "scale": {"domain": ["Zhenlan+ (1984)", "This work"], "range": ["triangle-right", "circle"]},
              "legend": {"orient": "none", "legendX": 62, "legendY": 208, "title": null, "symbolSize": 110, "labelFontSize": 16, "labelOffset": 22, "rowPadding": 2, "padding": 8, "strokeColor": "#444"}}
          }
        },
        {
          "data": {"values": [{}]},
          "mark": {"type": "text", "align": "right", "baseline": "alphabetic", "fontSize": 14},
          "encoding": {"x": {"datum": 10.77, "type": "quantitative", "axis": null}, "y": {"datum": 93.4, "type": "quantitative", "axis": null}, "text": {"value": "54"}}
        },
        {
          "data": {"values": [{}]},
          "mark": {"type": "text", "align": "left", "baseline": "alphabetic", "fontSize": 14},
          "encoding": {"x": {"datum": 16.55, "type": "quantitative", "axis": null}, "y": {"datum": 93.4, "type": "quantitative", "axis": null}, "text": {"value": "52"}}
        },
        {
          "data": {"values": [{"t": "Fe(d,α)", "E": 10.77, "s": 65.3}, {"t": "Mn", "E": 17.68, "s": 65.3}]},
          "mark": {"type": "text", "align": "left", "baseline": "alphabetic", "fontSize": 26},
          "encoding": {"x": {"field": "E", "type": "quantitative", "axis": null}, "y": {"field": "s", "type": "quantitative", "axis": null}, "text": {"field": "t"}}
        },
        {
          "data": {"values": [{}]},
          "mark": {"type": "text", "align": "left", "baseline": "alphabetic", "fontSize": 16},
          "encoding": {"x": {"datum": 2.34, "type": "quantitative", "axis": null}, "y": {"datum": 108, "type": "quantitative", "axis": null}, "text": {"value": "(c)"}}
        }
      ],
      "resolve": {"axis": {"x": "independent", "y": "independent"}, "scale": {"stroke": "independent", "strokeDash": "independent"}}
    },
    {
      "width": 270, "height": 256,
      "layer": [
        {
          "data": {"name": "d_lines"},
          "mark": {"type": "line", "clip": true, "strokeWidth": 1.5, "interpolate": "monotone"},
          "encoding": {
            "x": {"field": "E", "type": "quantitative", "scale": {"domain": [22.2, 58.6], "nice": false, "zero": false},
              "axis": {"orient": "bottom", "title": null, "values": [22.5,25,27.5,30,32.5,35,37.5,40,42.5,45,47.5,50,52.5,55,57.5], "labelExpr": "datum.value % 10 === 0 ? datum.label : ''", "tickSize": {"condition": {"test": "datum.value % 10 === 0", "value": -6}, "value": -3}}},
            "y": {"field": "sigma", "type": "quantitative", "scale": {"type": "log", "domain": [0.2, 100], "nice": false},
              "axis": {"orient": "left", "title": null, "format": "~g", "values": [0.2,0.3,0.4,0.5,0.6,0.7,0.8,0.9,1,2,3,4,5,6,7,8,9,10,20,30,40,50,60,70,80,90,100], "labelExpr": "abs(log(datum.value)/LN10 - round(log(datum.value)/LN10)) < 0.001 ? datum.label : ''", "tickSize": {"condition": {"test": "abs(log(datum.value)/LN10 - round(log(datum.value)/LN10)) < 0.001", "value": -6}, "value": -3}}},
            "stroke": {"field": "series", "type": "nominal", "scale": {"domain": ["σBF(p,αn)", "PE+CN", "BF+PE+CN", "TENDL-2013"], "range": ["#1a9a4a", "#c040b0", "#111111", "#3a5ccc"]},
              "legend": {"orient": "none", "legendX": 155, "legendY": 168, "title": null, "symbolType": "M-7,0L1,0", "symbolSize": 100, "symbolStrokeWidth": 1.5, "labelFontSize": 15, "labelOffset": 8, "rowPadding": 5, "padding": 0, "labelExpr": "datum.value === 'σBF(p,αn)' ? 'σ' : datum.label", "encode": {"labels": {"update": {"fontSize": {"signal": "datum.value === 'σBF(p,αn)' ? 22 : 15"}}}}}},
            "strokeDash": {"field": "series", "type": "nominal", "scale": {"domain": ["σBF(p,αn)", "PE+CN", "BF+PE+CN", "TENDL-2013"], "range": [[7,5],[9,3,2,3,2,3],[1,0],[2,3]]},
              "legend": {"orient": "none", "legendX": 155, "legendY": 168, "title": null, "symbolType": "M-7,0L1,0", "symbolSize": 100, "symbolStrokeWidth": 1.5, "labelFontSize": 15, "labelOffset": 8, "rowPadding": 5, "padding": 0, "labelExpr": "datum.value === 'σBF(p,αn)' ? 'σ' : datum.label", "encode": {"labels": {"update": {"fontSize": {"signal": "datum.value === 'σBF(p,αn)' ? 22 : 15"}}}}}}
          }
        },
        {
          "data": {"name": "d_lines"},
          "mark": {"type": "point", "opacity": 0},
          "encoding": {
            "x": {"field": "E", "type": "quantitative", "axis": {"orient": "top", "title": null, "labels": false, "values": [22.5,25,27.5,30,32.5,35,37.5,40,42.5,45,47.5,50,52.5,55,57.5], "tickSize": {"condition": {"test": "datum.value % 10 === 0", "value": -6}, "value": -3}}},
            "y": {"field": "sigma", "type": "quantitative", "axis": {"orient": "right", "title": null, "labels": false, "values": [0.2,0.3,0.4,0.5,0.6,0.7,0.8,0.9,1,2,3,4,5,6,7,8,9,10,20,30,40,50,60,70,80,90,100], "tickSize": {"condition": {"test": "abs(log(datum.value)/LN10 - round(log(datum.value)/LN10)) < 0.001", "value": -6}, "value": -3}}}
          }
        },
        {
          "data": {"values": [{"t": "(p,αn)", "E": 47.8, "s": 1.6}, {"t": "BF", "E": 47.8, "s": 1.13}]},
          "mark": {"type": "text", "align": "left", "baseline": "middle", "fontSize": 12},
          "encoding": {"x": {"field": "E", "type": "quantitative", "axis": null}, "y": {"field": "s", "type": "quantitative", "axis": null}, "text": {"field": "t"}}
        },
        {
          "data": {"values": [{}]},
          "mark": {"type": "text", "align": "right", "baseline": "alphabetic", "fontSize": 14},
          "encoding": {"x": {"datum": 39.84, "type": "quantitative", "axis": null}, "y": {"datum": 60.1, "type": "quantitative", "axis": null}, "text": {"value": "56"}}
        },
        {
          "data": {"values": [{}]},
          "mark": {"type": "text", "align": "left", "baseline": "alphabetic", "fontSize": 14},
          "encoding": {"x": {"datum": 50.93, "type": "quantitative", "axis": null}, "y": {"datum": 60.1, "type": "quantitative", "axis": null}, "text": {"value": "52"}}
        },
        {
          "data": {"values": [{"t": "Fe(d,x)", "E": 39.84, "s": 45}, {"t": "Mn", "E": 53.05, "s": 45}]},
          "mark": {"type": "text", "align": "left", "baseline": "alphabetic", "fontSize": 26},
          "encoding": {"x": {"field": "E", "type": "quantitative", "axis": null}, "y": {"field": "s", "type": "quantitative", "axis": null}, "text": {"field": "t"}}
        },
        {
          "data": {"values": [{}]},
          "mark": {"type": "text", "align": "left", "baseline": "alphabetic", "fontSize": 16},
          "encoding": {"x": {"datum": 23.26, "type": "quantitative", "axis": null}, "y": {"datum": 60.1, "type": "quantitative", "axis": null}, "text": {"value": "(d)"}}
        }
      ],
      "resolve": {"axis": {"x": "independent", "y": "independent"}}
    },
    {
      "width": 275, "height": 255,
      "layer": [
        {
          "data": {"name": "e_lines"},
          "mark": {"type": "line", "clip": true, "strokeWidth": 1.5, "interpolate": "monotone"},
          "encoding": {
            "x": {"field": "E", "type": "quantitative", "scale": {"domain": [34, 59.6], "nice": false, "zero": false},
              "axis": {"orient": "bottom", "title": null, "values": [35,36,37,38,39,40,41,42,43,44,45,46,47,48,49,50,51,52,53,54,55,56,57,58,59], "labelExpr": "datum.value % 5 === 0 ? datum.label : ''", "tickSize": {"condition": {"test": "datum.value % 5 === 0", "value": -6}, "value": -3}}},
            "y": {"field": "sigma", "type": "quantitative", "scale": {"type": "log", "domain": [0.6, 46], "nice": false},
              "axis": {"orient": "left", "title": null, "format": "~g", "values": [0.6,0.7,0.8,0.9,1,2,3,4,5,6,7,8,9,10,20,30,40], "labelExpr": "abs(log(datum.value)/LN10 - round(log(datum.value)/LN10)) < 0.001 ? datum.label : ''", "tickSize": {"condition": {"test": "abs(log(datum.value)/LN10 - round(log(datum.value)/LN10)) < 0.001", "value": -6}, "value": -3}}},
            "stroke": {"field": "series", "type": "nominal", "scale": {"domain": ["PE+CN", "TENDL-2013"], "range": ["#111111", "#3a5ccc"]},
              "legend": {"orient": "none", "legendX": 127, "legendY": 161, "title": null, "symbolType": "M-7,0L1,0", "symbolSize": 100, "symbolStrokeWidth": 1.5, "labelFontSize": 16, "labelOffset": 3, "rowPadding": 7, "padding": 0}},
            "strokeDash": {"field": "series", "type": "nominal", "scale": {"domain": ["PE+CN", "TENDL-2013"], "range": [[1,0],[2,3]]},
              "legend": {"orient": "none", "legendX": 127, "legendY": 161, "title": null, "symbolType": "M-7,0L1,0", "symbolSize": 100, "symbolStrokeWidth": 1.5, "labelFontSize": 16, "labelOffset": 3, "rowPadding": 7, "padding": 0}}
          }
        },
        {
          "data": {"name": "e_lines"},
          "mark": {"type": "point", "opacity": 0},
          "encoding": {
            "x": {"field": "E", "type": "quantitative", "axis": {"orient": "top", "title": null, "labels": false, "values": [35,36,37,38,39,40,41,42,43,44,45,46,47,48,49,50,51,52,53,54,55,56,57,58,59], "tickSize": {"condition": {"test": "datum.value % 5 === 0", "value": -6}, "value": -3}}},
            "y": {"field": "sigma", "type": "quantitative", "axis": {"orient": "right", "title": null, "labels": false, "values": [0.6,0.7,0.8,0.9,1,2,3,4,5,6,7,8,9,10,20,30,40], "tickSize": {"condition": {"test": "abs(log(datum.value)/LN10 - round(log(datum.value)/LN10)) < 0.001", "value": -6}, "value": -3}}}
          }
        },
        {
          "data": {"values": [{}]},
          "mark": {"type": "text", "align": "right", "baseline": "alphabetic", "fontSize": 14},
          "encoding": {"x": {"datum": 46.45, "type": "quantitative", "axis": null}, "y": {"datum": 34.6, "type": "quantitative", "axis": null}, "text": {"value": "57"}}
        },
        {
          "data": {"values": [{}]},
          "mark": {"type": "text", "align": "left", "baseline": "alphabetic", "fontSize": 14},
          "encoding": {"x": {"datum": 54.1, "type": "quantitative", "axis": null}, "y": {"datum": 34.6, "type": "quantitative", "axis": null}, "text": {"value": "52"}}
        },
        {
          "data": {"values": [{"t": "Fe(d,x)", "E": 46.45, "s": 28.6}, {"t": "Mn", "E": 55.6, "s": 28.6}]},
          "mark": {"type": "text", "align": "left", "baseline": "alphabetic", "fontSize": 26},
          "encoding": {"x": {"field": "E", "type": "quantitative", "axis": null}, "y": {"field": "s", "type": "quantitative", "axis": null}, "text": {"field": "t"}}
        },
        {
          "data": {"values": [{}]},
          "mark": {"type": "text", "align": "right", "baseline": "alphabetic", "fontSize": 16},
          "encoding": {"x": {"datum": 58.9, "type": "quantitative", "axis": null}, "y": {"datum": 0.67, "type": "quantitative", "axis": null}, "text": {"value": "(e)"}}
        }
      ],
      "resolve": {"axis": {"x": "independent", "y": "independent"}}
    },
    {
      "width": 270, "height": 255,
      "layer": [
        {
          "data": {"name": "f_lines"},
          "mark": {"type": "line", "clip": true, "strokeWidth": 1.5, "interpolate": "monotone"},
          "encoding": {
            "x": {"field": "E", "type": "quantitative", "scale": {"domain": [45.87, 59.24], "nice": false, "zero": false},
              "axis": {"orient": "bottom", "title": null, "values": [46,47,48,49,50,51,52,53,54,55,56,57,58,59], "labelExpr": "datum.value % 4 === 0 ? datum.label : ''", "tickSize": {"condition": {"test": "datum.value % 4 === 0", "value": -6}, "value": -3}}},
            "y": {"field": "sigma", "type": "quantitative", "scale": {"type": "log", "domain": [0.6, 18.7], "nice": false},
              "axis": {"orient": "left", "title": null, "format": "~g", "values": [0.6,0.7,0.8,0.9,1,2,3,4,5,6,7,8,9,10], "labelExpr": "abs(log(datum.value)/LN10 - round(log(datum.value)/LN10)) < 0.001 ? datum.label : ''", "tickSize": {"condition": {"test": "abs(log(datum.value)/LN10 - round(log(datum.value)/LN10)) < 0.001", "value": -6}, "value": -3}}},
            "stroke": {"field": "series", "type": "nominal", "scale": {"domain": ["PE+CN", "TENDL-2013"], "range": ["#111111", "#3a5ccc"]},
              "legend": {"orient": "none", "legendX": 130, "legendY": 155, "title": null, "symbolType": "M-7,0L1,0", "symbolSize": 100, "symbolStrokeWidth": 1.5, "labelFontSize": 16, "labelOffset": 6, "rowPadding": 6, "padding": 0}},
            "strokeDash": {"field": "series", "type": "nominal", "scale": {"domain": ["PE+CN", "TENDL-2013"], "range": [[1,0],[2,3]]},
              "legend": {"orient": "none", "legendX": 130, "legendY": 155, "title": null, "symbolType": "M-7,0L1,0", "symbolSize": 100, "symbolStrokeWidth": 1.5, "labelFontSize": 16, "labelOffset": 6, "rowPadding": 6, "padding": 0}}
          }
        },
        {
          "data": {"name": "f_lines"},
          "mark": {"type": "point", "opacity": 0},
          "encoding": {
            "x": {"field": "E", "type": "quantitative", "axis": {"orient": "top", "title": null, "labels": false, "values": [46,47,48,49,50,51,52,53,54,55,56,57,58,59], "tickSize": {"condition": {"test": "datum.value % 4 === 0", "value": -6}, "value": -3}}},
            "y": {"field": "sigma", "type": "quantitative", "axis": {"orient": "right", "title": null, "labels": false, "values": [0.6,0.7,0.8,0.9,1,2,3,4,5,6,7,8,9,10], "tickSize": {"condition": {"test": "abs(log(datum.value)/LN10 - round(log(datum.value)/LN10)) < 0.001", "value": -6}, "value": -3}}}
          }
        },
        {
          "data": {"values": [{}]},
          "mark": {"type": "text", "align": "right", "baseline": "alphabetic", "fontSize": 14},
          "encoding": {"x": {"datum": 47.26, "type": "quantitative", "axis": null}, "y": {"datum": 13.85, "type": "quantitative", "axis": null}, "text": {"value": "58"}}
        },
        {
          "data": {"values": [{}]},
          "mark": {"type": "text", "align": "left", "baseline": "alphabetic", "fontSize": 14},
          "encoding": {"x": {"datum": 51.33, "type": "quantitative", "axis": null}, "y": {"datum": 13.85, "type": "quantitative", "axis": null}, "text": {"value": "52"}}
        },
        {
          "data": {"values": [{"t": "Fe(d,x)", "E": 47.26, "s": 11.9}, {"t": "Mn", "E": 52.15, "s": 11.9}]},
          "mark": {"type": "text", "align": "left", "baseline": "alphabetic", "fontSize": 26},
          "encoding": {"x": {"field": "E", "type": "quantitative", "axis": null}, "y": {"field": "s", "type": "quantitative", "axis": null}, "text": {"field": "t"}}
        },
        {
          "data": {"values": [{}]},
          "mark": {"type": "text", "align": "right", "baseline": "alphabetic", "fontSize": 16},
          "encoding": {"x": {"datum": 59.14, "type": "quantitative", "axis": null}, "y": {"datum": 0.66, "type": "quantitative", "axis": null}, "text": {"value": "(f)"}}
        }
      ],
      "resolve": {"axis": {"x": "independent", "y": "independent"}}
    }
  ]
}
